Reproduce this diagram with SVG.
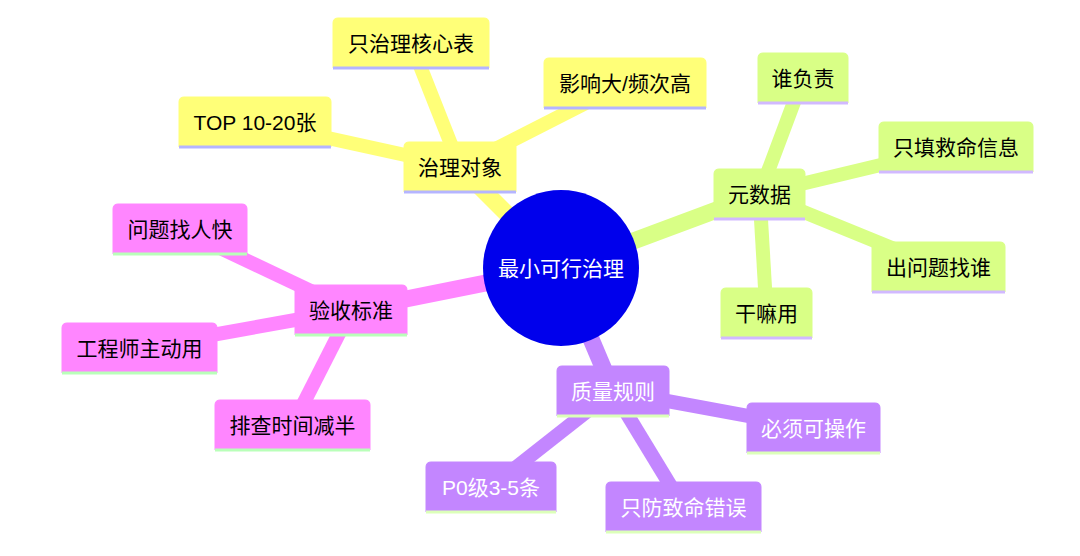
<svg xmlns="http://www.w3.org/2000/svg" width="1080" height="556" viewBox="0 0 1080 556">
<style>
text{font-family:"Liberation Sans","Noto Sans CJK SC",sans-serif;font-size:21px;text-anchor:middle;dominant-baseline:central}
.e0{stroke-width:17;stroke-linecap:butt;fill:none}
.e1{stroke-width:14;stroke-linecap:butt;fill:none}
.sy{fill:#ffff78;stroke:#ffff78}
.sg{fill:#d9ff86;stroke:#d9ff86}
.sp{fill:#ff86ff;stroke:#ff86ff}
.sv{fill:#c386ff;stroke:#c386ff}
.ly{stroke:#b5b5ff;stroke-width:3}
.lg{stroke:#d1b9ff;stroke-width:3}
.lp{stroke:#b9ffb9;stroke-width:3}
.lv{stroke:#dcffb9;stroke-width:3}
.tb{fill:#000}
.tw{fill:#fff}
</style>
<rect width="1080" height="556" fill="#fff"/>
<g id="connectors">
<line class="e0 sy" x1="561" y1="268" x2="460" y2="167"/>
<line class="e1 sy" x1="460" y1="167" x2="411" y2="43"/>
<line class="e1 sy" x1="460" y1="167" x2="625" y2="83"/>
<line class="e1 sy" x1="460" y1="167" x2="255" y2="122"/>
<line class="e0 sg" x1="561" y1="268" x2="759.5" y2="194"/>
<line class="e1 sg" x1="759.5" y1="194" x2="803" y2="78"/>
<line class="e1 sg" x1="759.5" y1="194" x2="956" y2="147"/>
<line class="e1 sg" x1="759.5" y1="194" x2="938.5" y2="267"/>
<line class="e1 sg" x1="759.5" y1="194" x2="766.5" y2="313"/>
<line class="e0 sp" x1="561" y1="268" x2="351" y2="310"/>
<line class="e1 sp" x1="351" y1="310" x2="180" y2="229"/>
<line class="e1 sp" x1="351" y1="310" x2="139.5" y2="348"/>
<line class="e1 sp" x1="351" y1="310" x2="292.5" y2="425"/>
<line class="e0 sv" x1="561" y1="268" x2="613" y2="391"/>
<line class="e1 sv" x1="613" y1="391" x2="813.5" y2="428"/>
<line class="e1 sv" x1="613" y1="391" x2="491" y2="487"/>
<line class="e1 sv" x1="613" y1="391" x2="683.5" y2="507"/>
</g>
<g id="root">
<circle cx="561" cy="268" r="78" fill="#0000ec"/>
<text x="561" y="268" class="tw">最小可行治理</text>
</g>
<g id="n-zhilioduixiang" transform="translate(404,142)">
<path class="sy" stroke="none" d="M0,50V5Q0,0 5,0H107Q112,0 112,5V50Z"/>
<line class="ly" x1="0" y1="50" x2="112" y2="50"/>
<text x="56" y="25" class="tb">治理对象</text>
</g>
<g id="n-hexinbiao" transform="translate(333,18)">
<path class="sy" stroke="none" d="M0,50V5Q0,0 5,0H151Q156,0 156,5V50Z"/>
<line class="ly" x1="0" y1="50" x2="156" y2="50"/>
<text x="78" y="25" class="tb">只治理核心表</text>
</g>
<g id="n-yingxiang" transform="translate(544,58)">
<path class="sy" stroke="none" d="M0,50V5Q0,0 5,0H157Q162,0 162,5V50Z"/>
<line class="ly" x1="0" y1="50" x2="162" y2="50"/>
<text x="81" y="25" class="tb">影响大/频次高</text>
</g>
<g id="n-top" transform="translate(179,97)">
<path class="sy" stroke="none" d="M0,50V5Q0,0 5,0H147Q152,0 152,5V50Z"/>
<line class="ly" x1="0" y1="50" x2="152" y2="50"/>
<text x="76" y="25" class="tb">TOP 10-20张</text>
</g>
<g id="n-yuanshuju" transform="translate(714,169)">
<path class="sg" stroke="none" d="M0,50V5Q0,0 5,0H86Q91,0 91,5V50Z"/>
<line class="lg" x1="0" y1="50" x2="91" y2="50"/>
<text x="45.5" y="25" class="tb">元数据</text>
</g>
<g id="n-shuifuze" transform="translate(758,53)">
<path class="sg" stroke="none" d="M0,50V5Q0,0 5,0H85Q90,0 90,5V50Z"/>
<line class="lg" x1="0" y1="50" x2="90" y2="50"/>
<text x="45" y="25" class="tb">谁负责</text>
</g>
<g id="n-jiuming" transform="translate(879,122)">
<path class="sg" stroke="none" d="M0,50V5Q0,0 5,0H149Q154,0 154,5V50Z"/>
<line class="lg" x1="0" y1="50" x2="154" y2="50"/>
<text x="77" y="25" class="tb">只填救命信息</text>
</g>
<g id="n-zhaoshui" transform="translate(872,242)">
<path class="sg" stroke="none" d="M0,50V5Q0,0 5,0H128Q133,0 133,5V50Z"/>
<line class="lg" x1="0" y1="50" x2="133" y2="50"/>
<text x="66.5" y="25" class="tb">出问题找谁</text>
</g>
<g id="n-ganmayong" transform="translate(721,288)">
<path class="sg" stroke="none" d="M0,50V5Q0,0 5,0H86Q91,0 91,5V50Z"/>
<line class="lg" x1="0" y1="50" x2="91" y2="50"/>
<text x="45.5" y="25" class="tb">干嘛用</text>
</g>
<g id="n-yanshou" transform="translate(295,285)">
<path class="sp" stroke="none" d="M0,50V5Q0,0 5,0H107Q112,0 112,5V50Z"/>
<line class="lp" x1="0" y1="50" x2="112" y2="50"/>
<text x="56" y="25" class="tb">验收标准</text>
</g>
<g id="n-zhaorenkuai" transform="translate(113,204)">
<path class="sp" stroke="none" d="M0,50V5Q0,0 5,0H129Q134,0 134,5V50Z"/>
<line class="lp" x1="0" y1="50" x2="134" y2="50"/>
<text x="67" y="25" class="tb">问题找人快</text>
</g>
<g id="n-gongchengshi" transform="translate(62,323)">
<path class="sp" stroke="none" d="M0,50V5Q0,0 5,0H150Q155,0 155,5V50Z"/>
<line class="lp" x1="0" y1="50" x2="155" y2="50"/>
<text x="77.5" y="25" class="tb">工程师主动用</text>
</g>
<g id="n-paicha" transform="translate(215,400)">
<path class="sp" stroke="none" d="M0,50V5Q0,0 5,0H150Q155,0 155,5V50Z"/>
<line class="lp" x1="0" y1="50" x2="155" y2="50"/>
<text x="77.5" y="25" class="tb">排查时间减半</text>
</g>
<g id="n-zhiliang" transform="translate(557,366)">
<path class="sv" stroke="none" d="M0,50V5Q0,0 5,0H107Q112,0 112,5V50Z"/>
<line class="lv" x1="0" y1="50" x2="112" y2="50"/>
<text x="56" y="25" class="tw">质量规则</text>
</g>
<g id="n-kecaozuo" transform="translate(747,403)">
<path class="sv" stroke="none" d="M0,50V5Q0,0 5,0H128Q133,0 133,5V50Z"/>
<line class="lv" x1="0" y1="50" x2="133" y2="50"/>
<text x="66.5" y="25" class="tw">必须可操作</text>
</g>
<g id="n-p0" transform="translate(426,462)">
<path class="sv" stroke="none" d="M0,50V5Q0,0 5,0H125Q130,0 130,5V50Z"/>
<line class="lv" x1="0" y1="50" x2="130" y2="50"/>
<text x="65" y="25" class="tw">P0级3-5条</text>
</g>
<g id="n-zhiming" transform="translate(606,482)">
<path class="sv" stroke="none" d="M0,50V5Q0,0 5,0H150Q155,0 155,5V50Z"/>
<line class="lv" x1="0" y1="50" x2="155" y2="50"/>
<text x="77.5" y="25" class="tw">只防致命错误</text>
</g>
</svg>
